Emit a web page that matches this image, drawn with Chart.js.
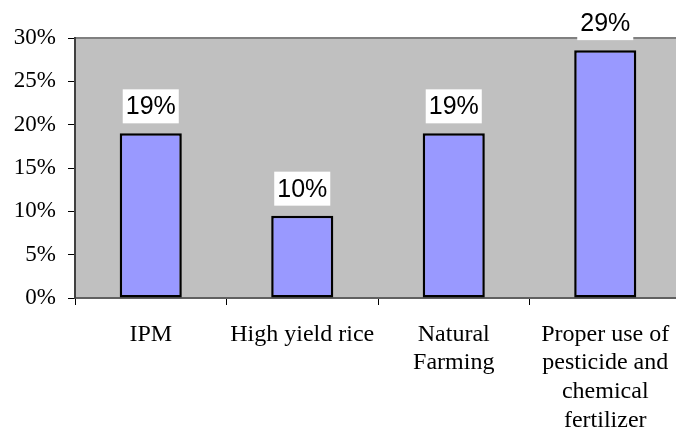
<!DOCTYPE html>
<html>
<head>
<meta charset="utf-8">
<script src="https://cdn.jsdelivr.net/npm/chart.js@4/dist/chart.umd.min.js"></script>
<style>
  html, body { margin: 0; padding: 0; background: #ffffff; overflow: hidden; }
  #wrap { width: 690px; height: 434px; }
</style>
</head>
<body>
<div id="wrap"><canvas id="chart" width="690" height="434"></canvas></div>
<script>
// Share of farmers by practice (percent)
const categories = [
  ['IPM'],
  ['High yield rice'],
  ['Natural', 'Farming'],
  ['Proper use of', 'pesticide and', 'chemical', 'fertilizer']
];
const shares = [19.0, 9.5, 19.0, 28.6];
const yTicks = [0, 5, 10, 15, 20, 25, 30];

const SERIF = '"Liberation Serif", "Times New Roman", serif';
const SANS = '"Liberation Sans", Arial, sans-serif';

// Gray plot background with a thin frame
const plotBackground = {
  id: 'plotBackground',
  beforeDraw(chart) {
    const { ctx, chartArea: a } = chart;
    ctx.save();
    ctx.fillStyle = '#c0c0c0';
    ctx.fillRect(a.left, a.top, a.right - a.left, a.bottom - a.top);
    ctx.strokeStyle = '#808080';
    ctx.lineWidth = 2;
    ctx.beginPath();
    ctx.moveTo(a.left, a.top);
    ctx.lineTo(a.right, a.top);
    ctx.stroke();
    ctx.restore();
  }
};

// Value labels in white boxes above each bar
const valueLabels = {
  id: 'valueLabels',
  afterDatasetsDraw(chart) {
    const { ctx } = chart;
    const meta = chart.getDatasetMeta(0);
    ctx.save();
    ctx.font = '25px ' + SANS;
    ctx.textAlign = 'center';
    ctx.textBaseline = 'alphabetic';
    meta.data.forEach((bar, i) => {
      const text = Math.round(shares[i]) + '%';
      const w = ctx.measureText(text).width + 6;
      const h = 34;
      const bottom = bar.y - 10;
      ctx.fillStyle = '#ffffff';
      ctx.fillRect(bar.x - w / 2, bottom - h, w, h);
      ctx.fillStyle = '#000000';
      ctx.fillText(text, bar.x, bottom - 9);
    });
    ctx.restore();
  }
};

new Chart(document.getElementById('chart'), {
  type: 'bar',
  data: {
    labels: categories,
    datasets: [{
      data: shares,
      backgroundColor: '#9999ff',
      borderColor: '#000000',
      borderWidth: 2.5,
      borderSkipped: false,
      categoryPercentage: 1.0,
      barPercentage: 0.41
    }]
  },
  options: {
    responsive: false,
    animation: false,
    devicePixelRatio: 1,
    layout: { padding: { top: 38, right: 9, left: 0, bottom: 0 } },
    plugins: {
      legend: { display: false },
      tooltip: { enabled: false },
      title: { display: false }
    },
    scales: {
      x: {
        grid: {
          offset: true,
          drawOnChartArea: false,
          drawTicks: true,
          tickLength: 7,
          color: '#000000'
        },
        border: { display: true, color: '#606060', width: 2 },
        ticks: {
          color: '#000000',
          font: { family: SERIF, size: 24, lineHeight: 1.2 },
          padding: 15,
          maxRotation: 0,
          autoSkip: false
        },
        afterFit(scale) { scale.height = 136; }
      },
      y: {
        min: 0,
        max: 30,
        afterBuildTicks(scale) { scale.ticks = yTicks.map(v => ({ value: v })); },
        grid: {
          drawOnChartArea: false,
          drawTicks: true,
          tickLength: 7,
          color: '#000000'
        },
        border: { display: true, color: '#404040', width: 2 },
        ticks: {
          color: '#000000',
          font: { family: SERIF, size: 23 },
          padding: 12,
          callback: v => v + '%'
        },
        afterFit(scale) { scale.width = 75; }
      }
    }
  },
  plugins: [plotBackground, valueLabels]
});
</script>
</body>
</html>
